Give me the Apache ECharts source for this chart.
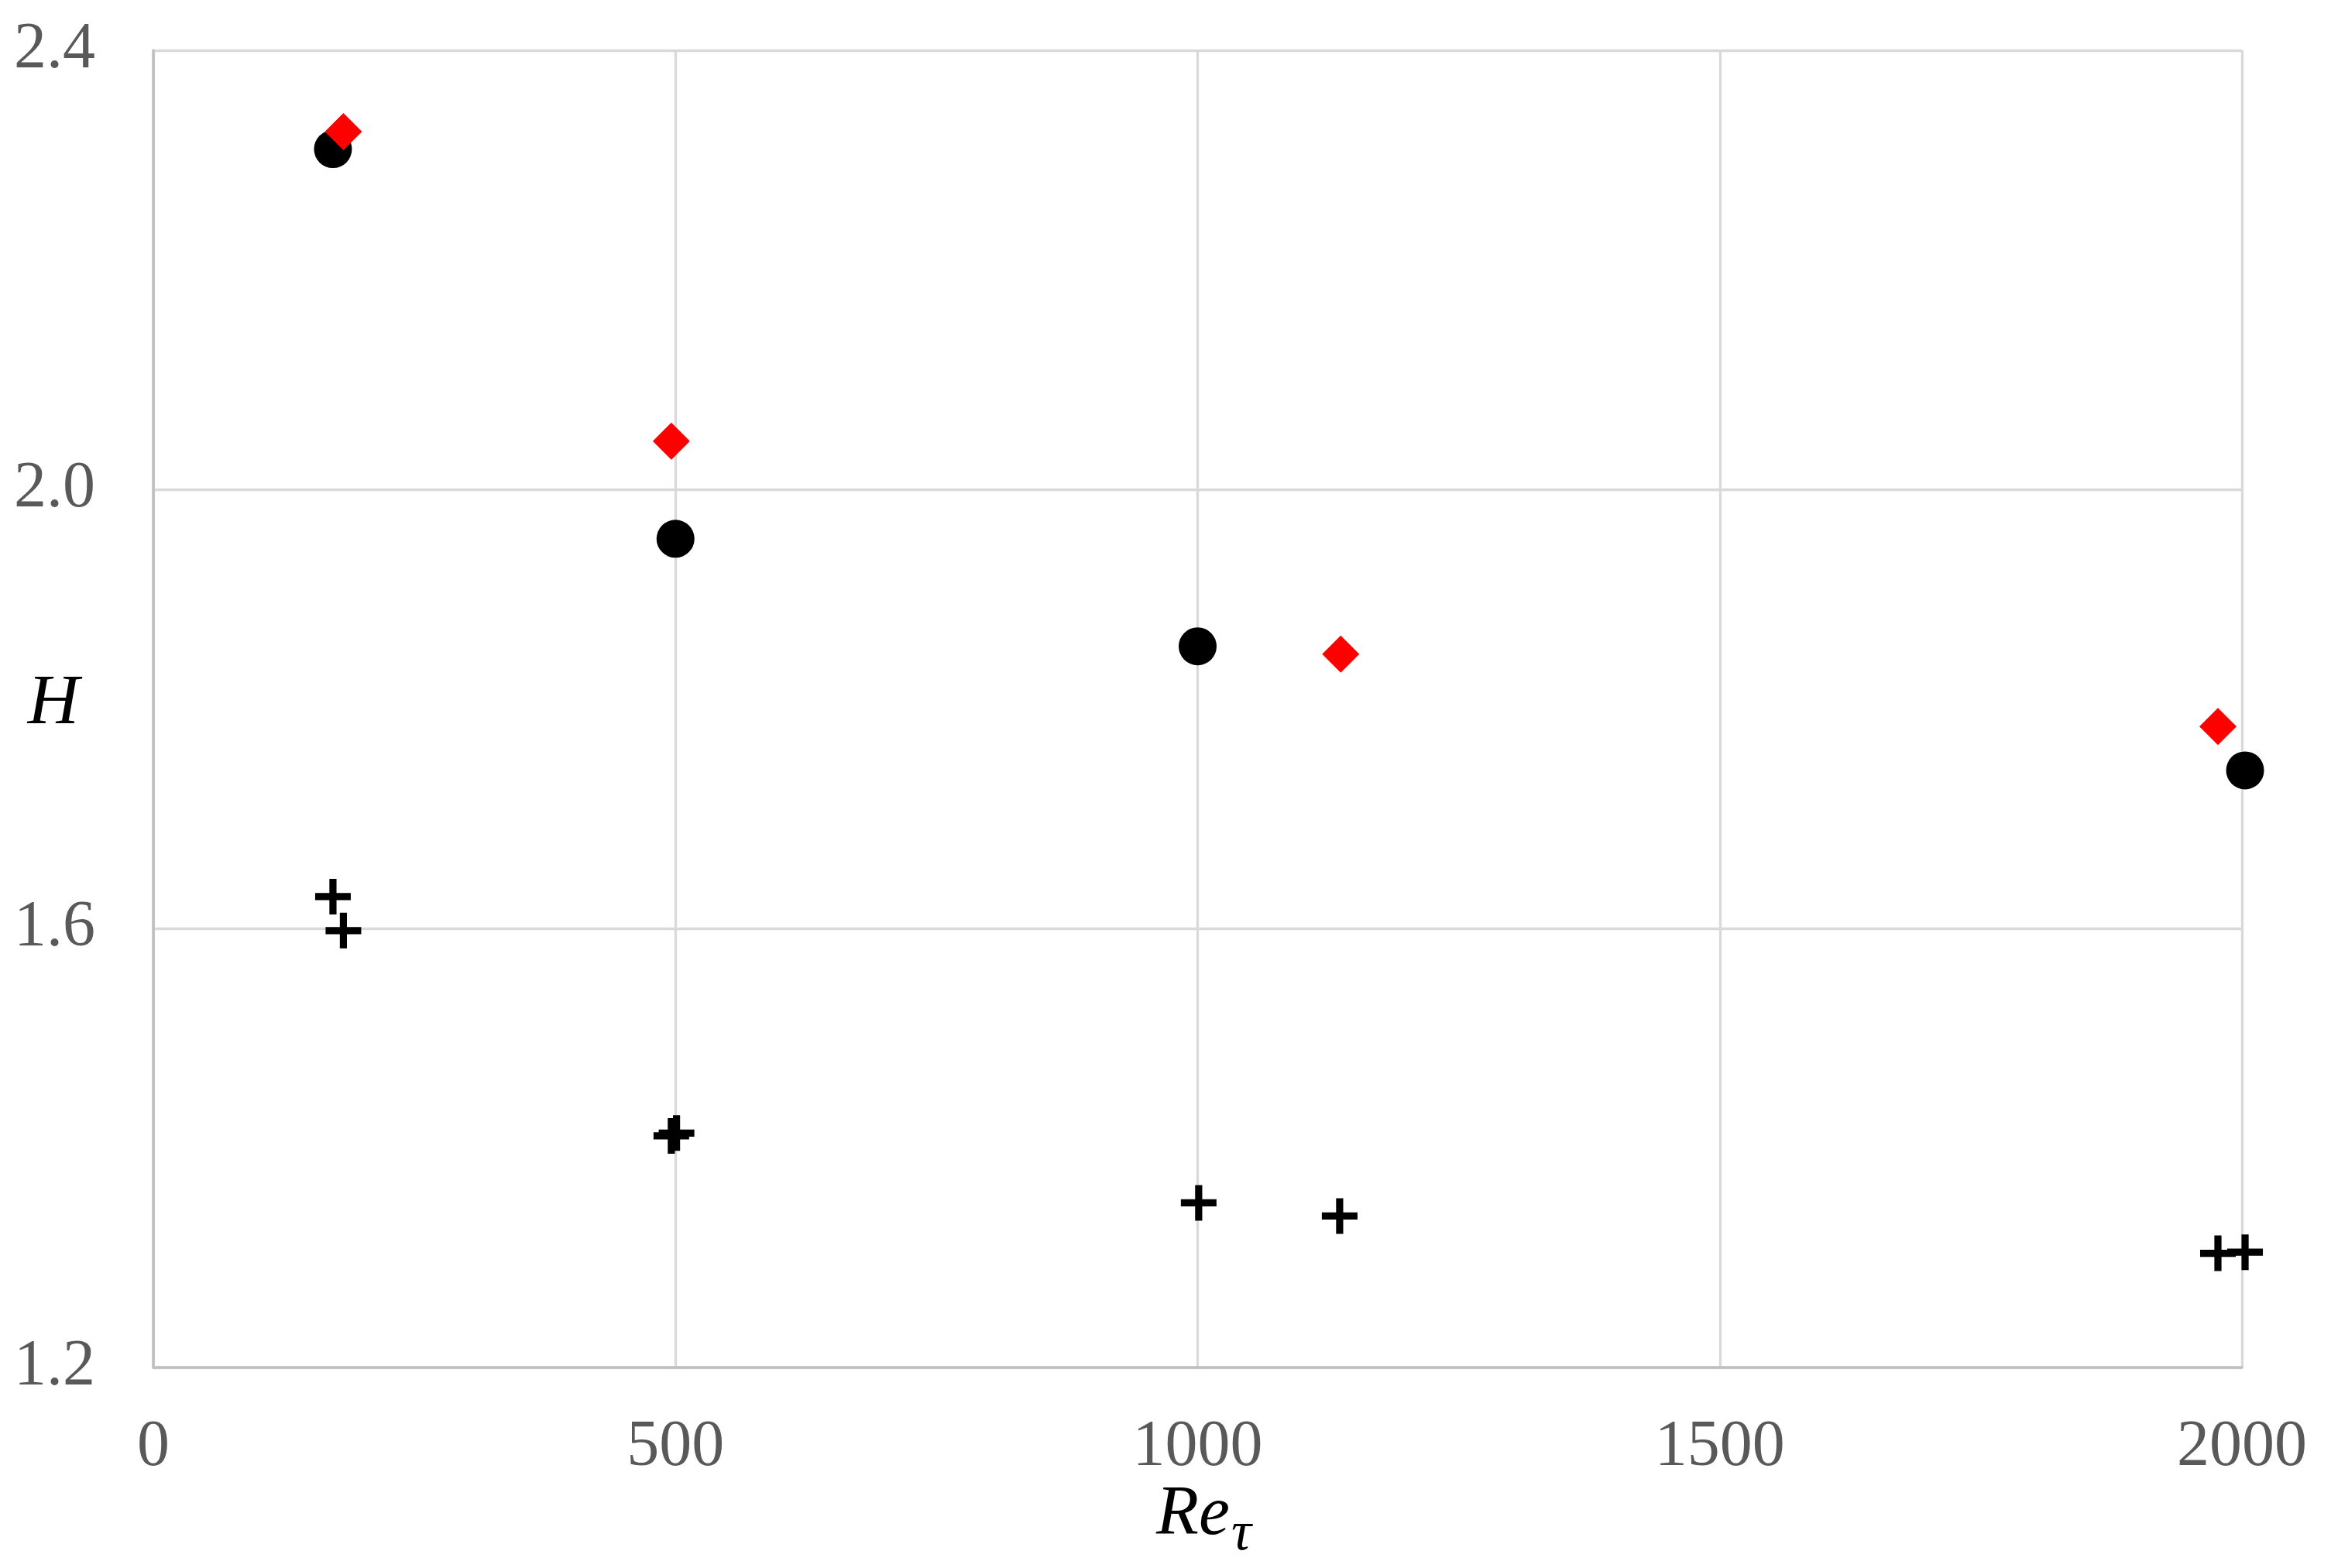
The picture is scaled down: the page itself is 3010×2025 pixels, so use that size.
<!DOCTYPE html>
<html>
<head>
<meta charset="utf-8">
<script src="https://cdn.jsdelivr.net/npm/echarts@6/dist/echarts.min.js"></script>
<style>
html,body{margin:0;padding:0;background:#fff;}
#chart{width:3010px;height:2025px;}
</style>
</head>
<body>
<div id="chart"></div>
<script>
// Re_tau positions and shape factor H
const circleRe = [172, 500, 1000, 2003];
const circleH = [2.310, 1.955, 1.857, 1.744];
const diamondRe = [182, 496, 1137, 1977];
const diamondH = [2.326, 2.044, 1.850, 1.784];
const crossARe = [172, 501, 1001, 2003];
const crossAH = [1.629, 1.4135, 1.350, 1.305];
const crossBRe = [182, 496, 1136, 1977];
const crossBH = [1.598, 1.411, 1.338, 1.304];
const xTicks = [0, 500, 1000, 1500, 2000];
const yTicks = [1.2, 1.6, 2.0, 2.4];

function pairs(xs, ys) { return xs.map((x, i) => [x, ys[i]]); }

const plusPath = 'path://M4,0h2v4h4v2h-4v4h-2v-4h-4v-2h4z';
const labelFont = 'Liberation Serif';

const chart = echarts.init(document.getElementById('chart'));
chart.setOption({
  backgroundColor: '#ffffff',
  animation: false,
  grid: { left: 198, top: 65, width: 2697, height: 1701, containLabel: false },
  xAxis: {
    type: 'value', min: xTicks[0], max: xTicks[xTicks.length - 1], interval: 500,
    axisLine: { show: true, lineStyle: { color: '#BFBFBF', width: 3.5 } },
    axisTick: { show: false },
    splitLine: { show: true, lineStyle: { color: '#D9D9D9', width: 3.3 } },
    axisLabel: { color: '#595959', fontFamily: labelFont, fontSize: 84, margin: 62,
      formatter: v => String(v) }
  },
  yAxis: {
    type: 'value', min: yTicks[0], max: yTicks[yTicks.length - 1], interval: 0.4,
    axisLine: { show: true, lineStyle: { color: '#BFBFBF', width: 3.5 } },
    axisTick: { show: false },
    splitLine: { show: true, lineStyle: { color: '#D9D9D9', width: 3.3 } },
    axisLabel: { color: '#595959', fontFamily: labelFont, fontSize: 84, margin: 75,
      formatter: v => v.toFixed(1) }
  },
  graphic: [
    { type: 'text', x: 1493, y: 1957,
      style: { text: 'Re', fill: '#000', font: 'italic 90px "Liberation Serif"', textAlign: 'left', textVerticalAlign: 'middle', verticalAlign: 'middle' } },
    { type: 'text', x: 1590, y: 1982,
      style: { text: 'τ', fill: '#000', font: 'italic 72px "Liberation Serif"', textAlign: 'left', textVerticalAlign: 'middle', verticalAlign: 'middle' } },
    { type: 'text', x: 69, y: 910,
      style: { text: 'H', fill: '#000', font: 'italic 92px "Liberation Serif"', textAlign: 'center', align: 'center', textVerticalAlign: 'middle', verticalAlign: 'middle' } }
  ],
  series: [
    { type: 'scatter', clip: false, data: pairs(crossARe, crossAH), symbol: plusPath, symbolSize: 46,
      itemStyle: { color: '#000', opacity: 1 }, z: 2 },
    { type: 'scatter', clip: false, data: pairs(crossBRe, crossBH), symbol: plusPath, symbolSize: 46,
      itemStyle: { color: '#000', opacity: 1 }, z: 2 },
    { type: 'scatter', clip: false, data: pairs(circleRe, circleH), symbol: 'circle', symbolSize: 49,
      itemStyle: { color: '#000', opacity: 1 }, z: 3 },
    { type: 'scatter', clip: false, data: pairs(diamondRe, diamondH), symbol: 'diamond', symbolSize: 48,
      itemStyle: { color: '#FF0000', opacity: 1 }, z: 4 }
  ]
});
</script>
</body>
</html>
